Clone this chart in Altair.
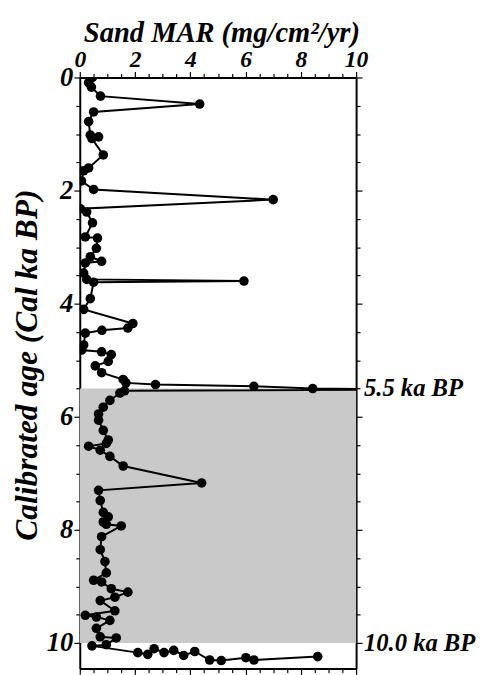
import altair as alt
import pandas as pd

# Calibrated age (Cal ka BP) and sand MAR (mg/cm2/yr), in plotting (depth) order
age = [0.00, 0.09, 0.17, 0.33, 0.47, 0.61, 0.78, 1.02, 1.05, 1.08, 1.37, 1.60, 1.65,
       1.83, 1.98, 2.16, 2.32, 2.38, 2.57, 2.82, 2.84, 3.02, 3.17, 3.25, 3.28, 3.46,
       3.57, 3.60, 3.62, 3.91, 4.10, 4.35, 4.43, 4.47, 4.52, 4.73, 4.82, 4.85, 4.90,
       5.02, 5.10, 5.22, 5.34, 5.40, 5.43, 5.46, 5.50, 5.52, 5.54, 5.58, 5.71, 5.83,
       5.95, 6.06, 6.24, 6.41, 6.47, 6.52, 6.59, 6.70, 6.87, 7.17, 7.30, 7.48, 7.69,
       7.77, 7.86, 7.90, 7.93, 8.12, 8.35, 8.56, 8.76, 8.89, 8.92, 9.04, 9.10, 9.19,
       9.25, 9.43, 9.51, 9.54, 9.60, 9.74, 9.89, 9.91, 10.03, 10.05, 10.17, 10.20,
       10.10, 10.17, 10.13, 10.22, 10.15, 10.30, 10.31, 10.26, 10.30, 10.24]
mar = [0.46, 0.32, 0.42, 0.75, 4.34, 0.50, 0.32, 0.38, 0.68, 0.44, 0.85, 0.32, 0.14,
       0.06, 0.50, 7.00, 0.02, 0.25, 0.46, 0.20, 0.64, 0.60, 0.38, 0.79, 0.20, 0.14,
       0.25, 5.94, 0.50, 0.38, 0.14, 1.92, 1.74, 0.80, 0.20, 0.14, 0.07, 0.79, 1.14,
       1.03, 0.56, 0.79, 1.57, 1.67, 2.74, 6.30, 8.43, 12.0, 1.62, 1.45, 1.09, 0.85,
       0.68, 0.68, 0.85, 1.03, 0.96, 0.32, 0.74, 1.09, 1.57, 4.41, 0.68, 0.74, 0.85,
       1.03, 0.85, 0.96, 1.50, 0.79, 0.74, 0.91, 0.96, 0.50, 0.79, 1.14, 1.74, 1.27,
       0.74, 1.27, 0.20, 0.60, 1.09, 0.60, 0.74, 1.32, 0.96, 0.44, 2.10, 2.46,
       2.69, 3.05, 3.40, 3.76, 4.16, 4.70, 5.12, 6.01, 6.30, 8.61]

shade_from = [5.5]
shade_to = [10.0]
label_age = [5.5, 10.0]
label_text = ["5.5 ka BP", "10.0 ka BP"]

x_ticks = [i * 0.5 for i in range(21)]
y_ticks = [i * 0.5 for i in range(21)]

df = pd.DataFrame({"age": age, "mar": mar, "idx": list(range(len(age)))})
shade = pd.DataFrame({"a0": shade_from, "a1": shade_to})
labels = pd.DataFrame({"age": label_age, "text": label_text})

FONT = "Liberation Serif"
W, H = 281, 601
xs = alt.Scale(domain=[0, 10], nice=False, zero=False)
ys = alt.Scale(domain=[0, 10.45], reverse=True, nice=False, zero=False)

major = "abs(datum.value - round(datum.value / 2) * 2) < 0.01"
tick_size = {"condition": {"test": major, "value": 6}, "value": 4}
lab_expr = f"{major} ? format(datum.value, 'd') : ''"

top_axis = alt.Axis(
    orient="top", values=x_ticks, labelExpr=lab_expr,
    title="Sand MAR (mg/cm²/yr)", titleFont=FONT, titleFontSize=29,
    titleFontStyle="italic", titleFontWeight="bold", titleColor="black",
    titleX=144, titleY=-37, titleAlign="center", titleBaseline="alphabetic",
    labelFont=FONT, labelFontSize=24, labelFontStyle="italic", labelFontWeight="bold",
    labelColor="black", labelPadding=0, labelFlush=False, labelOverlap=False,
    tickSize=tick_size, tickColor="black", tickWidth=1.2,
    domainColor="black", domainWidth=2, grid=False)

left_axis = alt.Axis(
    orient="left", values=y_ticks, labelExpr=lab_expr,
    title="Calibrated age (Cal ka BP)", titleFont=FONT, titleFontSize=32,
    titleFontStyle="italic", titleFontWeight="bold", titleColor="black",
    titleX=-37, titleY=292, titleAlign="center", titleAngle=-90,
    labelFont=FONT, labelFontSize=27, labelFontStyle="italic", labelFontWeight="bold",
    labelColor="black", labelPadding=1, labelFlush=False, labelOverlap=False,
    tickSize=tick_size, tickColor="black", tickWidth=1.2,
    domainColor="black", domainWidth=2, grid=False)

bottom_axis = alt.Axis(orient="bottom", values=x_ticks, labels=False, title=None,
                       tickSize=tick_size, tickColor="black", tickWidth=1.2,
                       domainColor="black", domainWidth=2, grid=False)
right_axis = alt.Axis(orient="right", values=y_ticks, labels=False, title=None,
                      tickSize=tick_size, tickColor="black", tickWidth=1.2,
                      domainColor="black", domainWidth=2, grid=False)

shade_layer = alt.Chart(shade).mark_rect(color="#c9c9c9").encode(
    x=alt.X(datum=0, scale=xs, axis=top_axis),
    x2=alt.X2(datum=10),
    y=alt.Y("a0:Q", scale=ys, axis=left_axis),
    y2="a1:Q",
)

line_layer = alt.Chart(df).mark_line(color="black", strokeWidth=2, clip=True).encode(
    x=alt.X("mar:Q", scale=xs, axis=None),
    y=alt.Y("age:Q", scale=ys, axis=None),
    order="idx:Q",
)

point_layer = alt.Chart(df).mark_circle(color="black", size=95, opacity=1, clip=True).encode(
    x=alt.X("mar:Q", scale=xs, axis=None),
    y=alt.Y("age:Q", scale=ys, axis=None),
)

label_layer = alt.Chart(labels).mark_text(
    font=FONT, fontSize=25, fontStyle="italic", fontWeight="bold", color="black",
    align="left", baseline="middle", dx=8, clip=False,
).encode(
    x=alt.X(datum=10, scale=xs, axis=bottom_axis),
    y=alt.Y("age:Q", scale=ys, axis=right_axis),
    text="text:N",
)

chart = alt.layer(shade_layer, line_layer, point_layer, label_layer).resolve_axis(
    x="independent", y="independent"
).properties(
    width=W, height=H,
    autosize=alt.AutoSizeParams(type="none"),
    padding={"left": 73, "top": 65, "right": 127, "bottom": 2},
).configure_view(stroke="black", strokeWidth=2).configure(background="white")

chart.save("out.html", embed_options={"renderer": "svg", "actions": False})
